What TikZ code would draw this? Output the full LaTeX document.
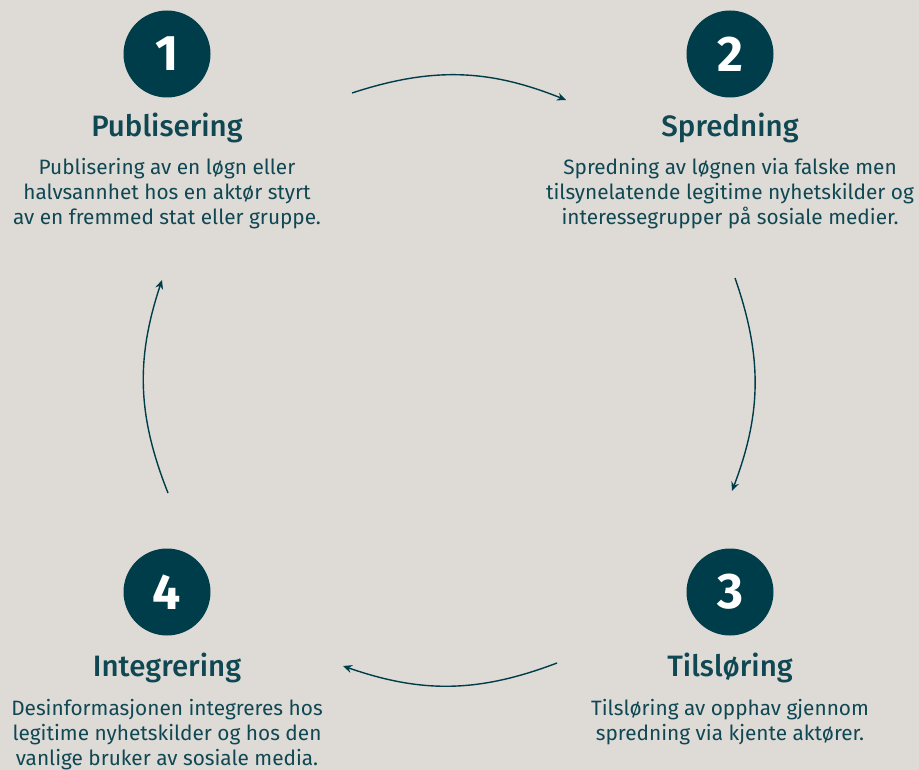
\documentclass[tikz,border=0pt]{standalone}
\usepackage{fontspec}
\setmainfont{Fira Sans}
\newfontfamily\titlefont{Fira Sans}[UprightFont=* Medium]
\usetikzlibrary{arrows.meta}
\definecolor{bg}{HTML}{DEDBD7}
\definecolor{teal}{HTML}{003D4A}
\definecolor{txt}{HTML}{0F4752}
\tikzset{
  numcirc/.style={circle, fill=teal, minimum size=87pt, inner sep=0pt, text=white, font=\fontsize{50}{50}\selectfont\bfseries},
  title/.style={anchor=base, text=txt, inner sep=0pt, font=\fontsize{29.5}{29.5}\selectfont\titlefont},
  body/.style={anchor=north, text=txt, inner sep=0pt, align=center, font=\fontsize{20.8}{25}\selectfont},
  cyc/.style={draw=teal, line width=1.4pt, -{Stealth[length=9pt,width=8pt]}}
}
\begin{document}
\begin{tikzpicture}[x=1pt,y=-1pt]
\fill[bg] (0,0) rectangle (919,770);
\useasboundingbox (0,0) rectangle (919,770);
\node[numcirc] (c1) at (167,54) {1};
\node[numcirc] (c2) at (730,54) {2};
\node[numcirc] (c3) at (730,592) {3};
\node[numcirc] (c4) at (167,592) {4};
\node[title] (t1) at (167,137) {Publisering};
\node[title] (t2) at (730,137) {Spredning};
\node[title] (t3) at (730,676) {Tilsløring};
\node[title] (t4) at (167,676) {Integrering};
\node[body] (b1) at (167,158) {Publisering av en løgn eller\\halvsannhet hos en aktør styrt\\av en fremmed stat eller gruppe.};
\node[body] (b2) at (730,158) {Spredning av løgnen via falske men\\tilsynelatende legitime nyhetskilder og\\interessegrupper på sosiale medier.};
\node[body] (b3) at (730,699) {Tilsløring av opphav gjennom\\spredning via kjente aktører.};
\node[body] (b4) at (167,699) {Desinformasjonen integreres hos\\legitime nyhetskilder og hos den\\vanlige bruker av sosiale media.};
\coordinate (a1s) at (352,93);
\coordinate (a1e) at (566,100);
\coordinate (a2s) at (735,278);
\coordinate (a2e) at (732,491);
\coordinate (a3s) at (557,663);
\coordinate (a3e) at (343,666);
\coordinate (a4s) at (168,493);
\coordinate (a4e) at (162,280);
\draw[cyc] (a1s) to[bend left=20] (a1e);
\draw[cyc] (a2s) to[bend left=20] (a2e);
\draw[cyc] (a3s) to[bend left=20] (a3e);
\draw[cyc] (a4s) to[bend left=20] (a4e);
\end{tikzpicture}
\end{document}
